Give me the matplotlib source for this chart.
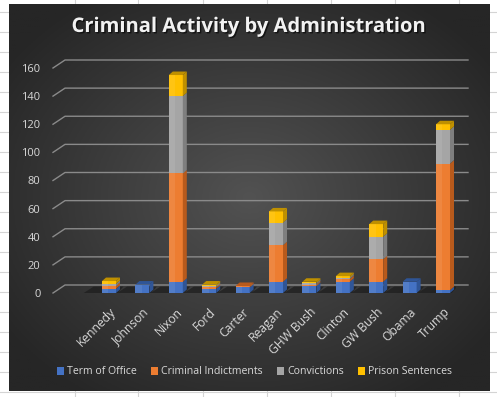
import numpy as np
import matplotlib.pyplot as plt
from matplotlib.patches import Polygon, Rectangle
import matplotlib.patheffects as pe

# data
presidents = ["Kennedy", "Johnson", "Nixon", "Ford", "Carter", "Reagan",
              "GHW Bush", "Clinton", "GW Bush", "Obama", "Trump"]
term_of_office = [3, 6, 8, 3, 4, 8, 5, 8, 8, 8, 2]
indictments = [2, 0, 77, 1, 1, 26, 1, 2, 16, 0, 90]
convictions = [1.5, 0, 55, 1, 0, 16, 1, 1, 16, 0, 24]
prison = [2, 0, 15, 1, 0, 8, 1, 1, 9, 0, 4]

series_names = ["Term of Office", "Criminal Indictments", "Convictions", "Prison Sentences"]
colors = ["#4472C4", "#ED7D31", "#A5A5A5", "#FFC000"]
side_colors = ["#2F5597", "#B85A1C", "#7F7F7F", "#BF9000"]

W, H = 497, 397
fig = plt.figure(figsize=(W / 100, H / 100), dpi=100)

# spreadsheet background + chart area
bg = fig.add_axes([0, 0, 1, 1])
bg.set_xlim(0, W)
bg.set_ylim(H, 0)
bg.axis("off")
for gx in [75, 138, 203, 267, 331, 395, 459]:
    bg.plot([gx, gx], [0, H], color="#d4d4d4", lw=0.8)
for gy in range(12, H, 20):
    bg.plot([0, W], [gy, gy], color="#d4d4d4", lw=0.8)

yy, xx = np.mgrid[0:1:200j, 0:1:240j]
r = np.sqrt(((xx - 0.5) / 0.62) ** 2 + ((yy - 0.5) / 0.62) ** 2)
r = np.clip(r, 0, 1)
c0 = np.array([0x52, 0x52, 0x52]) / 255
c1 = np.array([0x26, 0x26, 0x26]) / 255
img = c0[None, None, :] * (1 - r[..., None]) + c1[None, None, :] * r[..., None]
bg.imshow(img, extent=[9, 490, 391, 4], aspect="auto", zorder=2)

title = bg.text(249, 27, "Criminal Activity by Administration", ha="center", va="center",
                fontsize=14.5, fontweight="bold", color="#f2f2f2", family="Open Sans", zorder=5)
title.set_path_effects([pe.withSimplePatchShadow(offset=(1, -1), shadow_rgbFace="black", alpha=0.6)])

# front plane of the plot
left_px, right_px, zero_px, top_px = 53, 456, 293, 68
ax = fig.add_axes([left_px / W, (H - zero_px) / H, (right_px - left_px) / W, (zero_px - top_px) / H])
ax.patch.set_alpha(0)
for s in ax.spines.values():
    s.set_visible(False)

x = np.arange(len(presidents))
px_per_x = 33.4
px_per_y = (zero_px - top_px) / 160
xmin = -(109 - left_px) / px_per_x
xmax = 10 + (right_px - 443) / px_per_x
ax.set_xlim(xmin, xmax)
ax.set_ylim(0, 160)

# back wall gridlines
ddx = 12 / px_per_x
ddy = 8 / px_per_y
grid_right = 10 + (468 - 443) / px_per_x
for t in range(0, 161, 20):
    ax.plot([xmin, xmin + ddx, grid_right], [t, t + ddy, t + ddy],
            color="#8a8a8a", lw=1.0, clip_on=False, zorder=1)

bw = 14 / px_per_x
sx = 4 / px_per_x
sy = 3.5 / px_per_y

# floor shadows
for xi in x:
    shadow = Polygon([(xi - bw / 2 - 0.55, 0), (xi + bw / 2 + 0.05, 0),
                      (xi + bw / 2 + sx + 0.1, ddy * 0.8), (xi - bw / 2 - 0.25, ddy * 0.8)],
                     closed=True, facecolor="#1e1e1e", edgecolor="none", alpha=0.75, zorder=2)
    ax.add_patch(shadow)

data = [term_of_office, indictments, convictions, prison]
bottom = np.zeros(len(x))
tops = np.zeros(len(x))
for vals in data:
    tops += np.array(vals)

for k, vals in enumerate(data):
    vals = np.array(vals, dtype=float)
    ax.bar(x, vals, bw, bottom=bottom, color=colors[k], edgecolor="none",
           label=series_names[k], zorder=4)
    for xi, b, v in zip(x, bottom, vals):
        if v <= 0:
            continue
        side = Polygon([(xi + bw / 2, b), (xi + bw / 2 + sx, b + sy),
                        (xi + bw / 2 + sx, b + v + sy), (xi + bw / 2, b + v)],
                       closed=True, facecolor=side_colors[k], edgecolor="none", zorder=4)
        ax.add_patch(side)
        # light sheen on left part of front face
        ax.add_patch(Rectangle((xi - bw / 2, b), bw * 0.45, v, facecolor="white",
                               alpha=0.08, edgecolor="none", zorder=4.5))
    bottom += vals

# top faces (on the highest non-zero segment)
for i, xi in enumerate(x):
    k_top = max(k for k in range(4) if data[k][i] > 0)
    top = Polygon([(xi - bw / 2, tops[i]), (xi + bw / 2, tops[i]),
                   (xi + bw / 2 + sx, tops[i] + sy), (xi - bw / 2 + sx, tops[i] + sy)],
                  closed=True, facecolor=side_colors[k_top], edgecolor="none", zorder=5)
    ax.add_patch(top)

ax.set_yticks(range(0, 161, 20))
ax.tick_params(axis="y", length=0, pad=9, labelsize=8, labelcolor="#d9d9d9")
ax.set_xticks(x)
ax.set_xticklabels(presidents, rotation=45, ha="right", va="top", rotation_mode="anchor")
ax.tick_params(axis="x", length=0, pad=9, labelsize=8.7, labelcolor="#d9d9d9")
for lab in ax.get_xticklabels() + ax.get_yticklabels():
    lab.set_family("Open Sans")

leg = ax.legend(loc="center", bbox_to_anchor=(0.5, (H - 372 - (H - zero_px)) / (zero_px - top_px)),
                ncol=4, frameon=False, handlelength=0.7, handleheight=0.7,
                handletextpad=0.3, columnspacing=1.3, labelcolor="#d9d9d9",
                prop={"family": "Open Sans", "size": 7.6})

fig.savefig("out.png", dpi=100)
